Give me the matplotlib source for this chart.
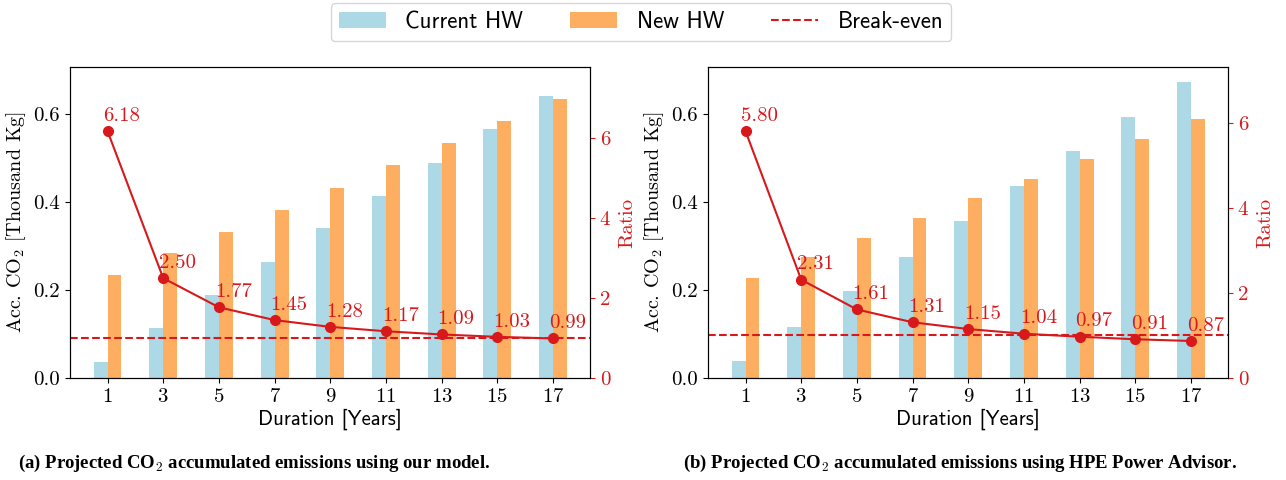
import matplotlib
matplotlib.use("Agg")
import matplotlib.pyplot as plt
import numpy as np

# Projection horizon (years)
years = [1, 3, 5, 7, 9, 11, 13, 15, 17]

# (a) our model: accumulated CO2 [thousand kg] and ratio
model_current = [0.036, 0.114, 0.188, 0.263, 0.340, 0.414, 0.488, 0.565, 0.640]
model_new = [0.233, 0.283, 0.332, 0.382, 0.432, 0.484, 0.533, 0.583, 0.633]
model_ratio = [6.18, 2.50, 1.77, 1.45, 1.28, 1.17, 1.09, 1.03, 0.99]

# (b) HPE Power Advisor
hpe_current = [0.038, 0.117, 0.197, 0.276, 0.357, 0.436, 0.515, 0.594, 0.673]
hpe_new = [0.228, 0.274, 0.319, 0.364, 0.409, 0.452, 0.497, 0.542, 0.588]
hpe_ratio = [5.80, 2.31, 1.61, 1.31, 1.15, 1.04, 0.97, 0.91, 0.87]

break_even = 1.0

captions = [
    r"(a) Projected CO$_\mathbf{2}$ accumulated emissions using our model.",
    r"(b) Projected CO$_\mathbf{2}$ accumulated emissions using HPE Power Advisor.",
]

C_CUR = "#add8e6"
C_NEW = "#fdae61"
C_RED = "#d7191c"

plt.rcParams["mathtext.fontset"] = "cm"
plt.rcParams["axes.formatter.use_mathtext"] = True

fig = plt.figure(figsize=(12.86, 4.8), dpi=100)

ymax = 1.05 * max(max(model_current), max(model_new), max(hpe_current), max(hpe_new))
x = np.array(years, dtype=float)
w = 0.5

panels = [
    (0.0544, model_current, model_new, model_ratio),
    (0.5505, hpe_current, hpe_new, hpe_ratio),
]

handles = None
for left, cur, new, ratio in panels:
    ax = fig.add_axes([left, 0.2125, 0.4044, 0.648])
    b1 = ax.bar(x - w / 2, cur, w, color=C_CUR, label="Current HW", zorder=1)
    b2 = ax.bar(x + w / 2, new, w, color=C_NEW, label="New HW", zorder=1)
    ax.set_xlim(-0.35, 18.33)
    ax.set_ylim(0, ymax)
    ax.set_xticks(years)
    ax.set_yticks([0.0, 0.2, 0.4, 0.6])
    ax.set_yticklabels(["0.0", "0.2", "0.4", "0.6"])
    for lab in ax.get_xticklabels() + ax.get_yticklabels():
        lab.set_family("cmr10")
        lab.set_fontsize(15)
    ax.set_ylabel(r"Acc. CO$_2$ [Thousand Kg]", family="cmr10", fontsize=14.5, labelpad=4)
    ax.set_xlabel("Duration [Years]", family="cmss10", fontsize=15, labelpad=2)

    ax2 = ax.twinx()
    ax2.set_ylim(0, max(ratio) * 1.26)
    be = ax2.axhline(break_even, color=C_RED, ls="--", lw=1.5, label="Break-even", zorder=2)
    ax2.plot(years, ratio, color=C_RED, lw=1.5, marker="o", ms=7, zorder=3)
    for xi, r in zip(years, ratio):
        ax2.text(xi - 0.15, r + 0.15, f"{r:.2f}", color=C_RED, family="cmr10",
                 fontsize=15, ha="left", va="bottom", zorder=4)
    ax2.set_yticks([0, 2, 4, 6])
    ax2.set_yticklabels(["0", "2", "4", "6"])
    ax2.tick_params(axis="y", colors=C_RED)
    ax2.spines["right"].set_color("black")
    for lab in ax2.get_yticklabels():
        lab.set_family("cmr10")
        lab.set_fontsize(15)
    ax2.set_ylabel("Ratio", color=C_RED, family="cmr10", fontsize=15, labelpad=6)
    handles = [b1, b2, be]

fig.legend(handles, ["Current HW", "New HW", "Break-even"], loc="center",
           bbox_to_anchor=(0.4985, 0.954), ncol=3, prop={"family": "cmss10", "size": 16.5},
           frameon=True, fancybox=True, edgecolor="#cccccc", handlelength=2.05,
           handletextpad=0.85, columnspacing=2.05, borderpad=0.35)

fig.text(0.1975, 0.035, captions[0], ha="center", va="center",
         family="Liberation Serif", weight="bold", fontsize=13.5)
fig.text(0.7465, 0.035, captions[1], ha="center", va="center",
         family="Liberation Serif", weight="bold", fontsize=13.5)

fig.savefig("out.png", dpi=100)
